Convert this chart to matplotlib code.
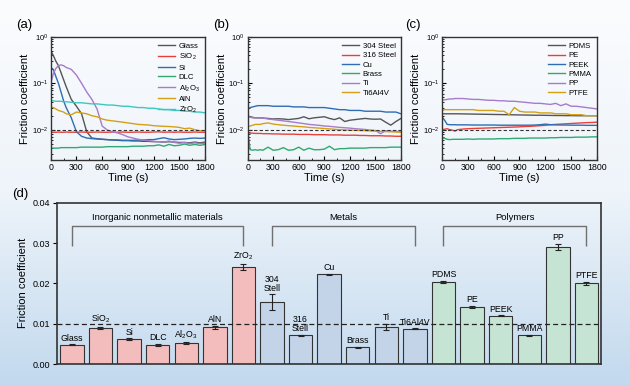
import numpy as np
import matplotlib
matplotlib.use("Agg")
import matplotlib.pyplot as plt
from matplotlib.colors import LinearSegmentedColormap
from matplotlib.ticker import LogLocator, MultipleLocator, FixedLocator, NullFormatter

plt.rcParams['font.family'] = ['Liberation Sans', 'DejaVu Sans']
plt.rcParams['mathtext.fontset'] = 'custom'
plt.rcParams['mathtext.rm'] = 'Liberation Sans'

# ---------------- data ----------------
time_s = [0, 30, 60, 90, 120, 150, 180, 240, 300, 360, 420, 480, 540, 600, 660, 720, 780,
          840, 900, 960, 1020, 1080, 1140, 1200, 1260, 1320, 1380, 1440, 1500, 1560, 1620,
          1680, 1740, 1800]

# panel (a) inorganic nonmetallic
glass = [0.50, 0.40, 0.30, 0.24, 0.17, 0.12, 0.085, 0.045, 0.032, 0.022, 0.009, 0.0066, 0.0064,
         0.0062, 0.0061, 0.0060, 0.0059, 0.0058, 0.0058, 0.0057, 0.0057, 0.0056, 0.0056, 0.0055,
         0.0055, 0.0054, 0.0055, 0.0054, 0.0053, 0.0053, 0.0052, 0.0054, 0.0052, 0.0054]
sio2 = [0.0089, 0.0088, 0.0088, 0.0089, 0.0088, 0.0088, 0.0089, 0.0088, 0.0088, 0.0089, 0.0088,
        0.0088, 0.0089, 0.0088, 0.0088, 0.0089, 0.0088, 0.0089, 0.0088, 0.0088, 0.0089, 0.0088,
        0.0088, 0.0089, 0.0090, 0.0088, 0.0089, 0.0088, 0.0089, 0.0088, 0.0088, 0.0089, 0.0088, 0.0088]
si = [0.22, 0.20, 0.14, 0.10, 0.065, 0.042, 0.030, 0.018, 0.009, 0.0072, 0.0066, 0.0064, 0.0063,
      0.0062, 0.0061, 0.0060, 0.0060, 0.0059, 0.0059, 0.0059, 0.0060, 0.0060, 0.0061, 0.0061,
      0.0064, 0.0067, 0.0063, 0.0061, 0.0062, 0.0063, 0.0065, 0.0066, 0.0065, 0.0066]
dlc = [0.0040, 0.0040, 0.0040, 0.0040, 0.0041, 0.0041, 0.0041, 0.0041, 0.0041, 0.0042, 0.0042,
       0.0042, 0.0042, 0.0042, 0.0043, 0.0043, 0.0043, 0.0043, 0.0043, 0.0044, 0.0044, 0.0044,
       0.0045, 0.0045, 0.0047, 0.0044, 0.0048, 0.0045, 0.0046, 0.0049, 0.0046, 0.0048, 0.0046, 0.0048]
al2o3 = [0.10, 0.16, 0.21, 0.24, 0.25, 0.24, 0.22, 0.20, 0.15, 0.10, 0.065, 0.045, 0.028, 0.012,
         0.0098, 0.0090, 0.0085, 0.0078, 0.0070, 0.0066, 0.0062, 0.0060, 0.0058, 0.0056, 0.0055,
         0.0054, 0.0057, 0.0053, 0.0051, 0.0053, 0.0050, 0.0052, 0.0050, 0.0051]
aln = [0.031, 0.030, 0.028, 0.026, 0.025, 0.024, 0.022, 0.021, 0.024, 0.023, 0.022, 0.020, 0.019,
       0.017, 0.016, 0.0155, 0.015, 0.0145, 0.014, 0.0135, 0.013, 0.0128, 0.0126, 0.0122, 0.012,
       0.0118, 0.0117, 0.0115, 0.0112, 0.0105, 0.0108, 0.0100, 0.0095, 0.0093]
zro2 = [0.042, 0.042, 0.041, 0.041, 0.041, 0.040, 0.040, 0.039, 0.038, 0.038, 0.037, 0.036, 0.036,
        0.035, 0.034, 0.034, 0.033, 0.032, 0.032, 0.031, 0.030, 0.030, 0.029, 0.029, 0.028, 0.027,
        0.027, 0.026, 0.026, 0.025, 0.025, 0.024, 0.024, 0.023]

# panel (b) metals
steel304 = [0.020, 0.019, 0.0185, 0.018, 0.018, 0.018, 0.0178, 0.0175, 0.017, 0.0172, 0.017,
            0.0165, 0.017, 0.0175, 0.019, 0.0172, 0.018, 0.0185, 0.019, 0.0175, 0.0165, 0.018,
            0.015, 0.016, 0.0165, 0.017, 0.0175, 0.017, 0.0168, 0.017, 0.0145, 0.0125, 0.015, 0.0175]
steel316 = [0.0085, 0.0084, 0.0084, 0.0083, 0.0083, 0.0083, 0.0082, 0.0082, 0.0081, 0.0081, 0.0080,
            0.0080, 0.0080, 0.0079, 0.0079, 0.0079, 0.0078, 0.0078, 0.0078, 0.0077, 0.0077, 0.0077,
            0.0076, 0.0076, 0.0076, 0.0075, 0.0075, 0.0074, 0.0074, 0.0074, 0.0073, 0.0073, 0.0072, 0.0072]
cu = [0.027, 0.030, 0.031, 0.032, 0.033, 0.033, 0.033, 0.033, 0.032, 0.032, 0.032, 0.032, 0.031,
      0.031, 0.031, 0.030, 0.030, 0.030, 0.030, 0.029, 0.028, 0.027, 0.027, 0.026, 0.026, 0.026,
      0.025, 0.025, 0.025, 0.025, 0.024, 0.024, 0.024, 0.022]
brass = [0.010, 0.0037, 0.0036, 0.0037, 0.0036, 0.0037, 0.0036, 0.0042, 0.0036, 0.0037, 0.0041,
         0.0036, 0.0037, 0.0042, 0.0036, 0.0040, 0.0037, 0.0037, 0.0038, 0.0044, 0.0037, 0.0039,
         0.0039, 0.0040, 0.0040, 0.0040, 0.0040, 0.0041, 0.0041, 0.0041, 0.0041, 0.0042, 0.0042, 0.0042]
ti = [0.019, 0.0185, 0.018, 0.018, 0.018, 0.018, 0.0178, 0.017, 0.0165, 0.016, 0.0155, 0.015,
      0.0145, 0.014, 0.0135, 0.013, 0.0127, 0.0124, 0.012, 0.0118, 0.0115, 0.0112, 0.011, 0.0108,
      0.0105, 0.0103, 0.0101, 0.0098, 0.0096, 0.0082, 0.0095, 0.0093, 0.0092, 0.0090]
ti6al4v = [0.0115, 0.012, 0.0125, 0.013, 0.013, 0.013, 0.0135, 0.014, 0.0132, 0.0128, 0.0125,
           0.0122, 0.012, 0.0117, 0.0115, 0.0112, 0.011, 0.0108, 0.0106, 0.0104, 0.0102, 0.0100,
           0.0099, 0.0098, 0.0097, 0.0096, 0.0095, 0.0094, 0.0093, 0.0092, 0.0091, 0.0090, 0.0089, 0.0088]

# panel (c) polymers
pdms = [0.022, 0.022, 0.022, 0.022, 0.022, 0.022, 0.022, 0.0219, 0.0218, 0.0217, 0.0216, 0.0215,
        0.0214, 0.0213, 0.0212, 0.0211, 0.021, 0.0209, 0.0208, 0.0207, 0.0206, 0.0205, 0.0205,
        0.0204, 0.0203, 0.0202, 0.0202, 0.0201, 0.0201, 0.020, 0.020, 0.020, 0.020, 0.020]
pe = [0.0100, 0.0102, 0.0105, 0.0100, 0.0098, 0.0093, 0.0100, 0.0103, 0.0105, 0.0106, 0.0107,
      0.0108, 0.0109, 0.0110, 0.0111, 0.0112, 0.0113, 0.0114, 0.0115, 0.0117, 0.0118, 0.0120,
      0.0122, 0.0124, 0.0128, 0.0130, 0.0132, 0.0134, 0.0136, 0.0138, 0.0140, 0.0142, 0.0143, 0.0145]
peek = [0.019, 0.016, 0.013, 0.0128, 0.0128, 0.0128, 0.0127, 0.0127, 0.0127, 0.0126, 0.0126,
        0.0126, 0.0126, 0.0126, 0.0125, 0.0125, 0.0125, 0.0125, 0.0125, 0.0125, 0.0125, 0.0126,
        0.0128, 0.0132, 0.0128, 0.0127, 0.0126, 0.0126, 0.0125, 0.0125, 0.0125, 0.0124, 0.0124, 0.0124]
pmma = [0.0068, 0.0065, 0.0062, 0.0061, 0.0062, 0.0062, 0.0062, 0.0062, 0.0063, 0.0062, 0.0063,
        0.0063, 0.0063, 0.0063, 0.0064, 0.0064, 0.0064, 0.0065, 0.0065, 0.0065, 0.0066, 0.0066,
        0.0066, 0.0066, 0.0067, 0.0067, 0.0068, 0.0068, 0.0068, 0.0069, 0.0069, 0.0069, 0.0070, 0.0070]
pp = [0.044, 0.044, 0.045, 0.046, 0.046, 0.047, 0.047, 0.047, 0.046, 0.045, 0.045, 0.044, 0.043,
      0.043, 0.042, 0.042, 0.041, 0.041, 0.040, 0.039, 0.038, 0.037, 0.037, 0.036, 0.035, 0.037,
      0.033, 0.036, 0.032, 0.032, 0.031, 0.030, 0.029, 0.028]
ptfe = [0.026, 0.027, 0.027, 0.027, 0.027, 0.027, 0.027, 0.027, 0.027, 0.027, 0.026, 0.026, 0.026,
        0.026, 0.025, 0.025, 0.021, 0.030, 0.025, 0.024, 0.024, 0.024, 0.023, 0.023, 0.023, 0.022,
        0.022, 0.022, 0.021, 0.021, 0.021, 0.020, 0.020, 0.020]

# panel (d) averages
bar_labels = ['Glass', 'SiO$_2$', 'Si', 'DLC', 'Al$_2$O$_3$', 'AlN', 'ZrO$_2$',
              '304\nStell', '316\nStell', 'Cu', 'Brass', 'Ti', 'Ti6Al4V',
              'PDMS', 'PE', 'PEEK', 'PMMA', 'PP', 'PTFE']
bar_values = [0.0048, 0.0090, 0.0062, 0.0047, 0.0052, 0.0091, 0.0241,
              0.0153, 0.0071, 0.0222, 0.0041, 0.0092, 0.0088,
              0.0203, 0.0142, 0.0120, 0.0071, 0.0290, 0.0200]
bar_errors = [0.0001, 0.0002, 0.0002, 0.0003, 0.0002, 0.0004, 0.0008,
              0.0020, 0.0001, 0.0002, 0.0001, 0.0007, 0.0001,
              0.0003, 0.0002, 0.0001, 0.0001, 0.0008, 0.0004]
groups = ['Inorganic nonmetallic materials', 'Metals', 'Polymers']
group_sizes = [7, 6, 6]

# ---------------- styling ----------------
C_GRAY, C_RED, C_BLUE, C_GREEN = '#555555', '#E8413C', '#2E6DB4', '#2EAA72'
C_PURPLE, C_GOLD, C_CYAN = '#A77BCA', '#D4A017', '#3CC8C0'
six = [C_GRAY, C_RED, C_BLUE, C_GREEN, C_PURPLE, C_GOLD]
group_colors = ['#F4BDBD', '#C3D3E8', '#C6E4D4']

fig = plt.figure(figsize=(6.3, 3.85), dpi=100)
bg = fig.add_axes([0, 0, 1, 1], zorder=-10)
grad = np.linspace(0, 1, 256).reshape(-1, 1)
cmap = LinearSegmentedColormap.from_list('bg', ['#FBFCFE', '#EEF4FA', '#C2D9EE'])
bg.imshow(grad, aspect='auto', cmap=cmap, extent=[0, 1, 0, 1], origin='upper')
bg.axis('off')

top_pos = [[0.0805, 0.584, 0.245, 0.320],
           [0.393, 0.584, 0.2435, 0.320],
           [0.7016, 0.584, 0.246, 0.320]]
panel_series = [
    ([glass, sio2, si, dlc, al2o3, aln, zro2],
     ['Glass', 'SiO$_2$', 'Si', 'DLC', 'Al$_2$O$_3$', 'AlN', 'ZrO$_2$'],
     [C_GRAY, C_RED, C_BLUE, C_GREEN, C_PURPLE, C_GOLD, C_CYAN]),
    ([steel304, steel316, cu, brass, ti, ti6al4v],
     ['304 Steel', '316 Steel', 'Cu', 'Brass', 'Ti', 'Ti6Al4V'], six),
    ([pdms, pe, peek, pmma, pp, ptfe],
     ['PDMS', 'PE', 'PEEK', 'PMMA', 'PP', 'PTFE'], six),
]
panel_tags = ['(a)', '(b)', '(c)']
tag_x = [0.025, 0.338, 0.643]

for pos, (series, names, cols), tag, tx in zip(top_pos, panel_series, panel_tags, tag_x):
    ax = fig.add_axes(pos)
    ax.set_facecolor('none')
    for s, n, c in zip(series, names, cols):
        ax.plot(time_s, s, color=c, lw=1.0, label=n)
    ax.axhline(0.01, color='#333333', ls=(0, (3, 2)), lw=0.8)
    ax.set_yscale('log')
    ax.set_ylim(0.0022, 1)
    ax.set_xlim(0, 1800)
    ax.xaxis.set_major_locator(MultipleLocator(300))
    ax.xaxis.set_minor_locator(MultipleLocator(150))
    ax.yaxis.set_major_locator(FixedLocator([0.01, 0.1, 1]))
    ax.yaxis.set_minor_locator(LogLocator(base=10, subs=np.arange(2, 10)))
    ax.yaxis.set_minor_formatter(NullFormatter())
    ax.tick_params(axis='both', which='major', labelsize=6.3, direction='in', length=3, width=0.8, pad=2)
    ax.tick_params(axis='both', which='minor', direction='in', length=1.5, width=0.6)
    ax.tick_params(axis='y', labelsize=5.5)
    for sp in ax.spines.values():
        sp.set_linewidth(1.0)
        sp.set_color('#333333')
    ax.set_xlabel('Time (s)', fontsize=8, labelpad=1)
    ax.set_ylabel('Friction coefficient', fontsize=8, labelpad=1)
    leg = ax.legend(loc='upper right', frameon=False, fontsize=5.6, handlelength=2.2,
                    labelspacing=0.25, borderaxespad=0.3, handletextpad=0.5)
    fig.text(tx, 0.935, tag, fontsize=9.5, ha='left', va='center')

# ---------------- panel d ----------------
axd = fig.add_axes([0.0905, 0.0545, 0.863, 0.419])
axd.set_facecolor('none')
bar_colors = []
for gc, n in zip(group_colors, group_sizes):
    bar_colors += [gc] * n
x = np.arange(len(bar_values))
axd.bar(x, bar_values, width=0.82, color=bar_colors, edgecolor='#333333', linewidth=0.8, zorder=2)
axd.errorbar(x, bar_values, yerr=bar_errors, fmt='none', ecolor='#222222', elinewidth=0.8,
             capsize=2.2, capthick=0.8, zorder=3)
axd.axhline(0.01, color='#222222', ls=(0, (4, 2.5)), lw=0.9, zorder=4)
axd.set_xlim(-0.52, 18.5)
axd.set_ylim(0, 0.04)
axd.set_xticks([])
axd.yaxis.set_major_locator(MultipleLocator(0.01))
axd.yaxis.set_major_formatter(matplotlib.ticker.FormatStrFormatter('%.2f'))
axd.tick_params(axis='y', labelsize=6.5, direction='out', length=3, width=0.8, pad=2)
for sp in axd.spines.values():
    sp.set_linewidth(1.2)
    sp.set_color('#333333')
axd.set_ylabel('Friction coefficient', fontsize=8, labelpad=3)

for xi, v, e, lab in zip(x, bar_values, bar_errors, bar_labels):
    ytxt = v + e + 0.0004
    axd.text(xi, ytxt, lab, ha='center', va='bottom', fontsize=6.3, linespacing=1.0, zorder=5)

start = 0
for g, n in zip(groups, group_sizes):
    x0, x1 = start, start + n - 1
    axd.plot([x0, x0, x1, x1], [0.0293, 0.0342, 0.0342, 0.0293], color='#707070', lw=1.0,
             solid_capstyle='butt', zorder=3)
    axd.text((x0 + x1) / 2, 0.0352, g, ha='center', va='bottom', fontsize=6.8)
    start += n

fig.text(0.02, 0.497, '(d)', fontsize=9.5, ha='left', va='center')

fig.savefig('out.png', dpi=100)
